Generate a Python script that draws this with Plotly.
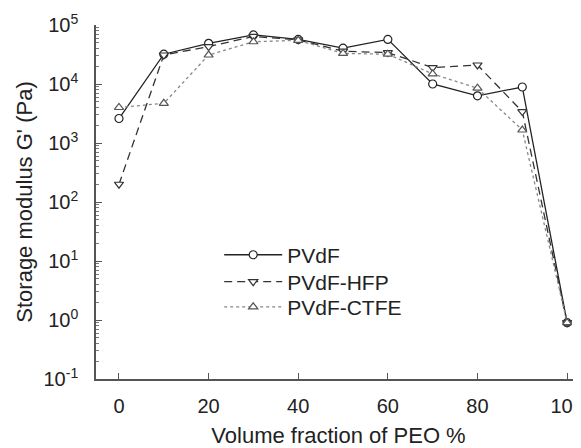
import plotly.graph_objects as go

peo = [0, 10, 20, 30, 40, 50, 60, 70, 80, 90, 100]
pvdf = [2600, 32000, 49000, 68000, 57000, 40500, 57000, 10000, 6300, 8900, 0.9]
pvdf_hfp = [200, 31000, 43000, 64000, 56000, 36000, 34000, 19000, 21000, 3400, 0.9]
pvdf_ctfe = [4000, 4700, 31000, 52000, 55000, 33000, 32000, 14800, 8500, 1660, 0.9]

ytick_vals = [0.1, 1, 10, 100, 1000, 10000, 100000]
ytick_text = ["10<sup>-1</sup>", "10<sup>0</sup>", "10<sup>1</sup>", "10<sup>2</sup>",
              "10<sup>3</sup>", "10<sup>4</sup>", "10<sup>5</sup>"]
xtick_vals = [0, 20, 40, 60, 80, 100]

minor_vals = [m * 10 ** e for e in range(-1, 5) for m in range(2, 10)]

FONT = "Liberation Sans, Arial, sans-serif"

fig = go.Figure()
fig.add_trace(go.Scatter(
    x=peo, y=pvdf, name="PVdF", mode="lines+markers", legend="legend",
    line=dict(color="#222222", width=1.3, dash="solid"),
    marker=dict(symbol="circle", size=8, color="white", line=dict(color="#222222", width=1.2)),
))
fig.add_trace(go.Scatter(
    x=peo, y=pvdf_hfp, name="PVdF-HFP", mode="lines+markers", legend="legend2",
    line=dict(color="#333333", width=1.3, dash="8px,5px"),
    marker=dict(symbol="triangle-down", size=8, color="white", line=dict(color="#333333", width=1.2)),
))
fig.add_trace(go.Scatter(
    x=peo, y=pvdf_ctfe, name="PVdF-CTFE", mode="lines+markers", legend="legend3",
    line=dict(color="#888888", width=1.3, dash="dot"),
    marker=dict(symbol="triangle-up", size=8, color="white", line=dict(color="#555555", width=1.2)),
))

leg_common = dict(xanchor="left", yanchor="middle", bgcolor="rgba(0,0,0,0)",
                  font=dict(size=21, family=FONT, color="#222222"), itemwidth=58)
LX = 0.254

fig.update_layout(
    width=573, height=440,
    margin=dict(l=88, r=0, t=17, b=69),
    paper_bgcolor="white", plot_bgcolor="white",
    font=dict(family=FONT, size=20, color="#222222"),
    showlegend=True,
    legend=dict(x=LX, y=0.350, **leg_common),
    legend2=dict(x=LX, y=0.274, **leg_common),
    legend3=dict(x=LX, y=0.203, **leg_common),
    xaxis=dict(
        range=[-5.13, 103.1], tickmode="array", tickvals=xtick_vals,
        showline=True, linecolor="#555555", linewidth=1.6,
        ticks="inside", ticklen=6, tickcolor="#555555", tickwidth=1.2,
        showgrid=False, zeroline=False, ticklabelstandoff=8, ticklabeloverflow="allow",
        automargin=False,
        title=dict(text="Volume fraction of PEO %", font=dict(size=22, family=FONT)),
    ),
    yaxis=dict(
        type="log", range=[-1, 5], tickmode="array", tickvals=ytick_vals, ticktext=ytick_text,
        showline=True, linecolor="#555555", linewidth=1.6,
        ticks="inside", ticklen=6, tickcolor="#555555", tickwidth=1.2,
        showgrid=False, zeroline=False, ticklabelstandoff=12,
        automargin=True,
        minor=dict(tickmode="array", tickvals=minor_vals, ticks="inside", ticklen=3,
                   tickcolor="#777777", tickwidth=1, showgrid=False),
        title=dict(text="Storage modulus G' (Pa)", font=dict(size=22, family=FONT), standoff=5),
    ),
)

fig.write_html("out.html")
